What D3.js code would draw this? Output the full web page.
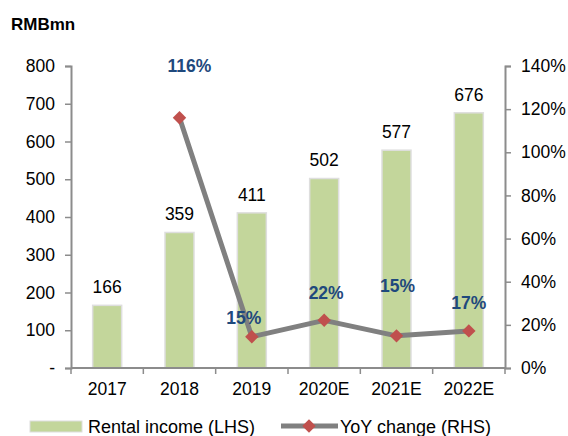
<!DOCTYPE html>
<html>
<head>
<meta charset="utf-8">
<script src="https://cdn.jsdelivr.net/npm/d3@7.9.0/dist/d3.min.js"></script>
<style>
  body { margin: 0; background: #fff; }
  svg { font-family: 'Liberation Sans', Arial, sans-serif; }
</style>
</head>
<body>
<svg width="568" height="436"></svg>
<script>
// chart data
const years = ['2017', '2018', '2019', '2020E', '2021E', '2022E'];
const rentalIncome = [166, 359, 411, 502, 577, 676];
const yoyChange = [null, 116, 14.5, 22.1, 14.9, 17.2];
const yoyLabels = ['', '116%', '15%', '22%', '15%', '17%'];
const leftTicks = [0, 100, 200, 300, 400, 500, 600, 700, 800];
const rightTicks = [0, 20, 40, 60, 80, 100, 120, 140];

const svg = d3.select('svg');
const plotLeft = 71, plotRight = 505, plotTop = 66, plotBottom = 368;
const axisColor = '#8c8c8c';
const fs = 17.5;

let x = d3.scaleBand().domain(years).range([plotLeft, plotRight]);
let yL = d3.scaleLinear().domain([0, 800]).range([plotBottom, plotTop]);
let yR = d3.scaleLinear().domain([0, 140]).range([plotBottom, plotTop]);

// bars
const barW = 29;
svg.selectAll('rect.bar')
  .data(rentalIncome)
  .enter()
  .append('rect')
  .attr('class', 'bar')
  .attr('x', (d, i) => x(years[i]) + x.bandwidth() / 2 - barW / 2)
  .attr('y', d => yL(d))
  .attr('width', barW)
  .attr('height', d => plotBottom - yL(d))
  .attr('fill', '#c3d69b')
  .attr('stroke', '#dedede')
  .attr('stroke-width', 1.5);

// bar value labels
svg.selectAll('text.val')
  .data(rentalIncome)
  .enter()
  .append('text')
  .attr('x', (d, i) => x(years[i]) + x.bandwidth() / 2)
  .attr('y', d => yL(d) - 12)
  .attr('text-anchor', 'middle')
  .attr('font-size', fs)
  .attr('fill', '#000')
  .text(d => d);

// left axis
const leftAxis = svg.append('g').attr('transform', `translate(${plotLeft},0)`)
  .call(d3.axisLeft(yL).tickValues(leftTicks).tickSize(6).tickPadding(10)
    .tickFormat(d => d === 0 ? '-' : d));
// right axis
const rightAxis = svg.append('g').attr('transform', `translate(${plotRight},0)`)
  .call(d3.axisRight(yR).tickValues(rightTicks).tickSize(6).tickPadding(10)
    .tickFormat(d => d + '%'));
[leftAxis, rightAxis].forEach(g => {
  g.select('.domain').attr('stroke', axisColor).attr('stroke-width', 2);
  g.selectAll('.tick line').attr('stroke', axisColor).attr('stroke-width', 1.5);
  g.selectAll('.tick text').attr('font-size', fs).attr('fill', '#000')
    .attr('font-family', "'Liberation Sans', Arial, sans-serif");
});

// bottom axis
const xAxisG = svg.append('g').attr('transform', `translate(0,${plotBottom})`);
xAxisG.append('line')
  .attr('x1', plotLeft).attr('x2', plotRight)
  .attr('stroke', axisColor).attr('stroke-width', 2);
const bounds = years.map(y => x(y)).concat([plotRight]);
xAxisG.selectAll('line.xt')
  .data(bounds)
  .enter()
  .append('line')
  .attr('x1', d => d).attr('x2', d => d)
  .attr('y1', 0).attr('y2', 6)
  .attr('stroke', axisColor).attr('stroke-width', 1.5);
xAxisG.selectAll('text')
  .data(years)
  .enter()
  .append('text')
  .attr('x', d => x(d) + x.bandwidth() / 2)
  .attr('y', 27)
  .attr('text-anchor', 'middle')
  .attr('font-size', fs)
  .attr('fill', '#000')
  .text(d => d);

// yoy line
const pts = yoyChange.map((v, i) => ({ v, i })).filter(d => d.v !== null);
const line = d3.line()
  .x(d => x(years[d.i]) + x.bandwidth() / 2)
  .y(d => yR(d.v));
svg.append('path')
  .datum(pts)
  .attr('d', line)
  .attr('fill', 'none')
  .attr('stroke', '#808080')
  .attr('stroke-width', 5)
  .attr('stroke-linejoin', 'round');

const diamond = d3.symbol().type(d3.symbolDiamond2).size(115);
svg.selectAll('path.mk')
  .data(pts)
  .enter()
  .append('path')
  .attr('class', 'mk')
  .attr('d', diamond)
  .attr('transform', d => `translate(${x(years[d.i]) + x.bandwidth() / 2},${yR(d.v)})`)
  .attr('fill', '#c0504d');

// yoy labels (offsets from point)
const labelOffsets = [null, [10, -46], [-8, -13], [2, -21], [1, -44], [0, -22]];
pts.forEach(d => {
  const off = labelOffsets[d.i];
  svg.append('text')
    .attr('x', x(years[d.i]) + x.bandwidth() / 2 + off[0])
    .attr('y', yR(d.v) + off[1])
    .attr('text-anchor', 'middle')
    .attr('font-size', fs)
    .attr('font-weight', 'bold')
    .attr('fill', '#1f497d')
    .text(yoyLabels[d.i]);
});

// unit label
svg.append('text')
  .attr('x', 11).attr('y', 30)
  .attr('font-size', 17)
  .attr('font-weight', 'bold')
  .text('RMBmn');

// legend
const lg = svg.append('g');
lg.append('rect').attr('x', 30).attr('y', 421).attr('width', 52).attr('height', 11)
  .attr('fill', '#c3d69b').attr('stroke', '#dedede');
lg.append('text').attr('x', 88).attr('y', 433).attr('font-size', 18).text('Rental income (LHS)');
lg.append('line').attr('x1', 281).attr('x2', 338).attr('y1', 426).attr('y2', 426)
  .attr('stroke', '#808080').attr('stroke-width', 5);
lg.append('path').attr('d', diamond).attr('transform', 'translate(309,426)').attr('fill', '#c0504d');
lg.append('text').attr('x', 340).attr('y', 433).attr('font-size', 18).text('YoY change (RHS)');
</script>
</body>
</html>
